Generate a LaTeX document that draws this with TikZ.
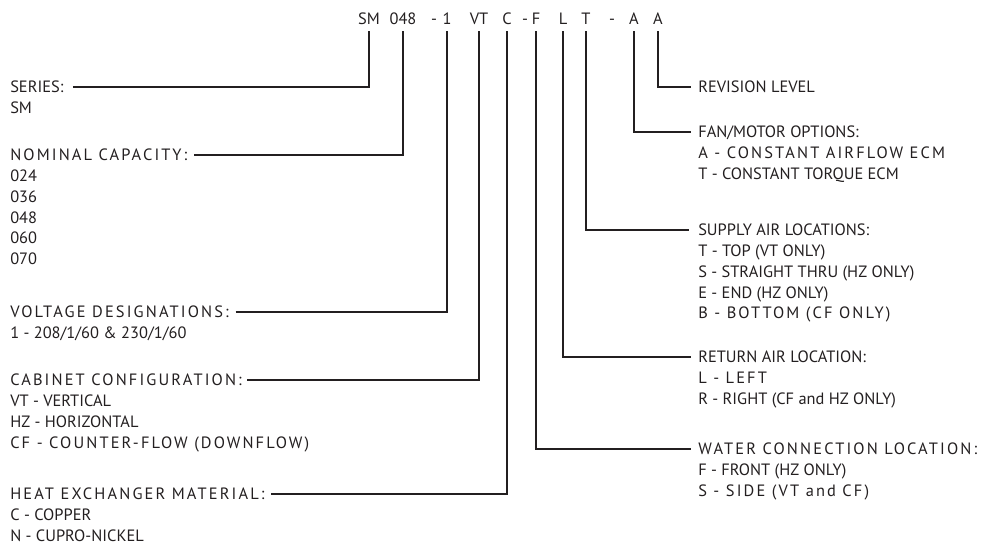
\documentclass[tikz,border=0pt]{standalone}
\usepackage{fontspec}
\setmainfont{PT Sans}
\newfontfamily\trackfont[LetterSpace=13]{PT Sans}
\usetikzlibrary{positioning}
\definecolor{ink}{RGB}{35,31,32}

\begin{document}
\begin{tikzpicture}[x=0.75pt,y=-0.75pt,font=\fontsize{12.3}{15}\selectfont,text=ink,
    txt/.style={inner sep=0pt,text height=8.5pt,text depth=0pt,anchor=west},
    trk/.style={txt,font=\fontsize{12.3}{15}\trackfont},
    code/.style={inner xsep=0pt,inner ysep=4.7pt,text height=8.5pt,text depth=0pt},
    link/.style={draw=ink,line width=1.4pt}]
  \useasboundingbox (0,0) rectangle (985,548);

  % model number
  \node[code] (cSM) at (369,19) {SM};
  \node[code] (cCap) at (403,19) {048};
  \node[code] (dashV) at (434,19) {-};
  \node[code] (cVolt) at (447,19) {1};
  \node[code] (cCab) at (479,19) {VT};
  \node[code] (cHx) at (507,19) {C};
  \node[code] (dashW) at (525,19) {-};
  \node[code] (cWater) at (536,19) {F};
  \node[code] (cRet) at (563,19) {L};
  \node[code] (cSup) at (586,19) {T};
  \node[code] (dashF) at (612,19) {-};
  \node[code] (cFan) at (634,19) {A};
  \node[code] (cRev) at (658,19) {A};

  % left column
  \node[txt] (series) at (10,87) {SERIES:};
  \node[txt] (series-1) at ([yshift=-15.6pt]series.west) {SM};

  \node[trk] (capacity) at (10,155) {NOMINAL CAPACITY:};
  \foreach \t [count=\i] in {024,036,048,060,070}
    \node[txt] (capacity-\i) at ([yshift=-\i*15.6pt]capacity.west) {\t};

  \node[trk] (voltage) at (10,312) {VOLTAGE DESIGNATIONS:};
  \node[txt] (voltage-1) at ([yshift=-15.6pt]voltage.west) {1 - 208/1/60 \& 230/1/60};

  \node[trk] (cabinet) at (10,380) {CABINET CONFIGURATION:};
  \node[txt] (cabinet-1) at ([yshift=-15.6pt]cabinet.west) {VT - VERTICAL};
  \node[txt] (cabinet-2) at ([yshift=-31.2pt]cabinet.west) {HZ - HORIZONTAL};
  \node[trk] (cabinet-3) at ([yshift=-46.8pt]cabinet.west) {CF - COUNTER-FLOW (DOWNFLOW)};

  \node[trk] (hx) at (10,494) {HEAT EXCHANGER MATERIAL:};
  \node[txt] (hx-1) at ([yshift=-15.6pt]hx.west) {C - COPPER};
  \node[txt] (hx-2) at ([yshift=-31.2pt]hx.west) {N - CUPRO-NICKEL};

  % right column
  \node[txt] (revision) at (698,87) {REVISION LEVEL};

  \node[txt] (fan) at (698,132) {FAN/MOTOR OPTIONS:};
  \node[trk] (fan-1) at ([yshift=-15.6pt]fan.west) {A - CONSTANT AIRFLOW ECM};
  \node[txt] (fan-2) at ([yshift=-31.2pt]fan.west) {T - CONSTANT TORQUE ECM};

  \node[txt] (supply) at (698,230) {SUPPLY AIR LOCATIONS:};
  \foreach \t [count=\i] in {T - TOP (VT ONLY),S - STRAIGHT THRU (HZ ONLY),E - END (HZ ONLY)}
    \node[txt] (supply-\i) at ([yshift=-\i*15.6pt]supply.west) {\t};
  \node[trk] (supply-4) at ([yshift=-62.4pt]supply.west) {B - BOTTOM (CF ONLY)};

  \node[txt] (return) at (698,357) {RETURN AIR LOCATION:};
  \node[trk] (return-1) at ([yshift=-15.6pt]return.west) {L - LEFT};
  \node[txt] (return-2) at ([yshift=-31.2pt]return.west) {R - RIGHT (CF and HZ ONLY)};

  \node[trk] (water) at (698,449) {WATER CONNECTION LOCATION:};
  \node[txt] (water-1) at ([yshift=-15.6pt]water.west) {F - FRONT (HZ ONLY)};
  \node[trk] (water-2) at ([yshift=-31.2pt]water.west) {S - SIDE (VT and CF)};

  % leaders
  \draw[link,shorten <=7pt] (series.east) -| (cSM.south);
  \draw[link,shorten <=5pt] (capacity.east) -| (cCap.south);
  \draw[link,shorten <=5pt] (voltage.east) -| (cVolt.south);
  \draw[link,shorten <=4pt] (cabinet.east) -| (cCab.south);
  \draw[link,shorten <=5pt] (hx.east) -| (cHx.south);
  \draw[link,shorten >=5pt] (cRev.south) |- (revision.west);
  \draw[link,shorten >=5pt] (cFan.south) |- (fan.west);
  \draw[link,shorten >=7pt] (cSup.south) |- (supply.west);
  \draw[link,shorten >=5pt] (cRet.south) |- (return.west);
  \draw[link,shorten >=5pt] (cWater.south) |- (water.west);
\end{tikzpicture}
\end{document}
